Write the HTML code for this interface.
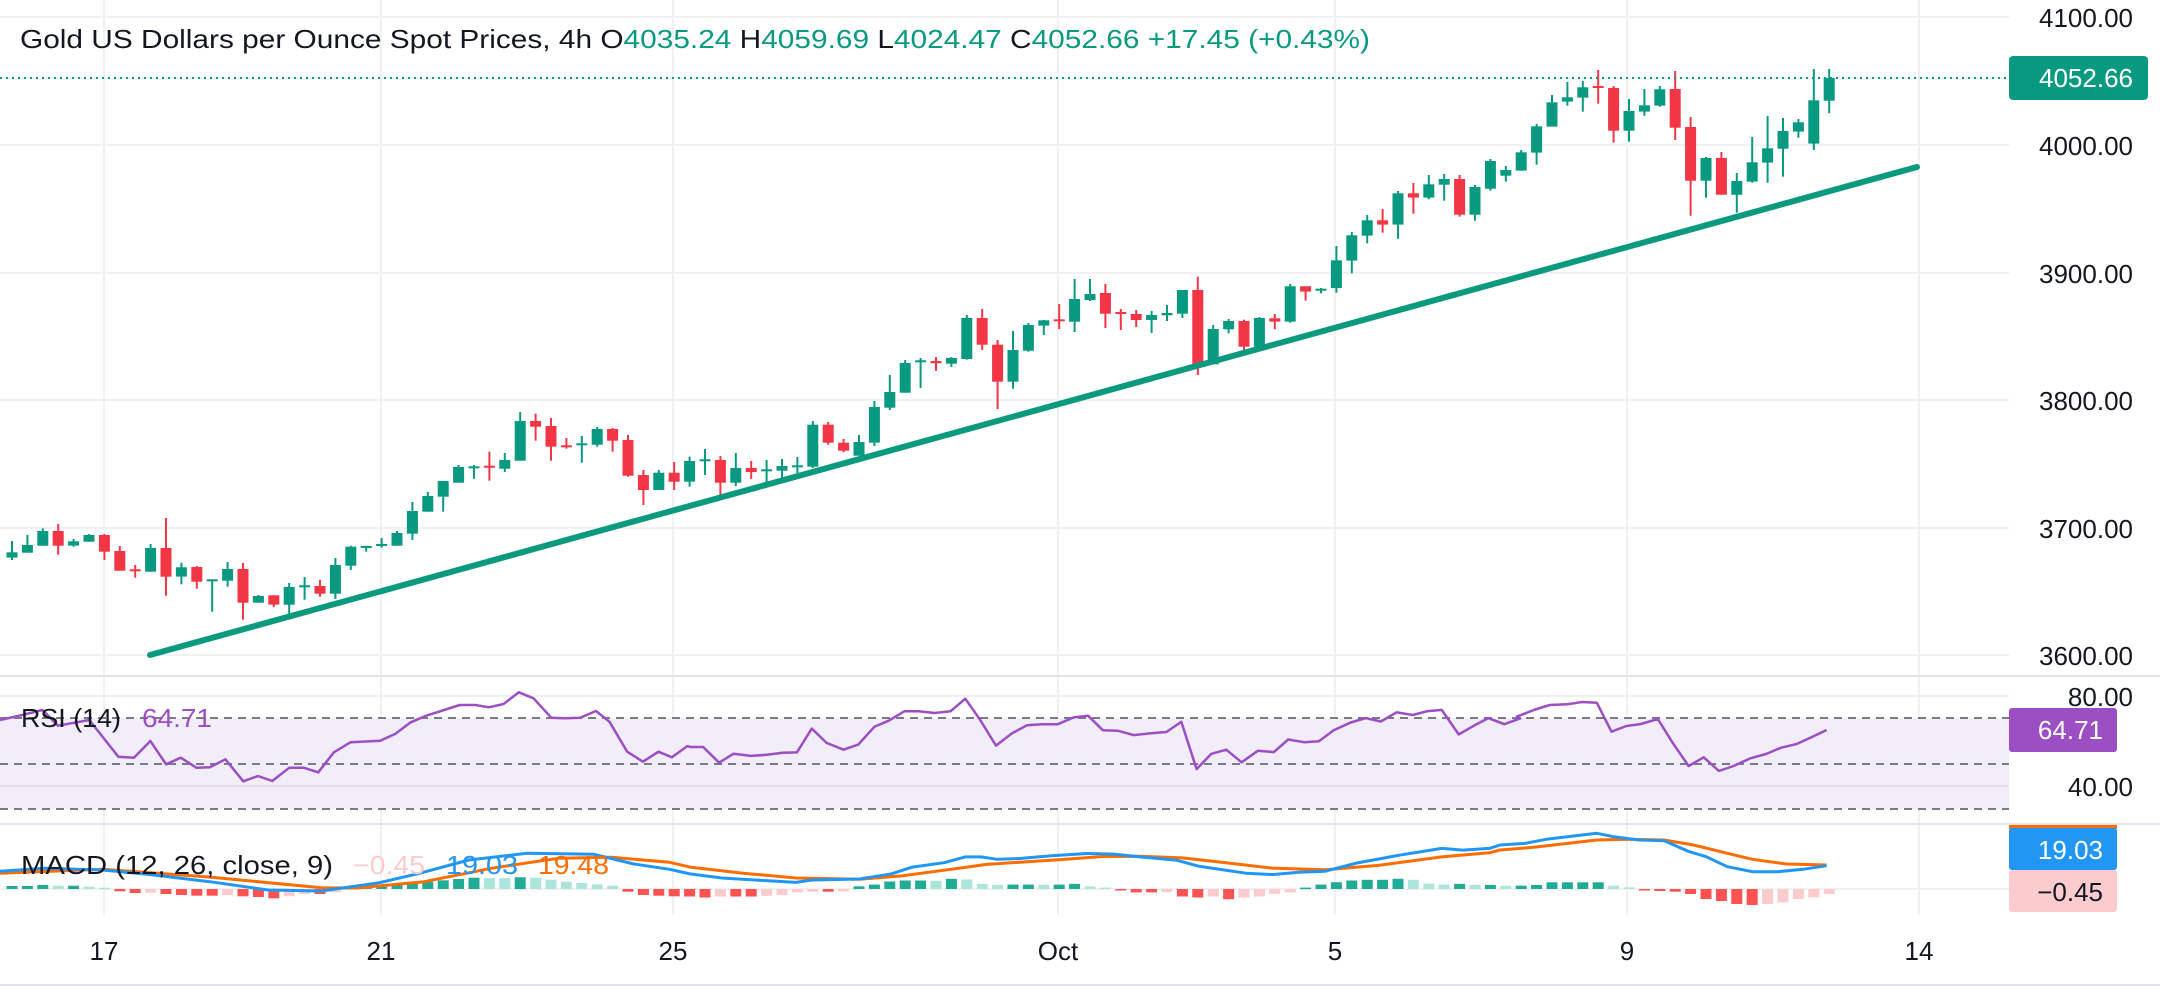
<!DOCTYPE html>
<html><head><meta charset="utf-8">
<style>
html,body{margin:0;padding:0;background:#fff;}
svg{display:block;font-family:"Liberation Sans",sans-serif;}
</style></head>
<body>
<svg id="s" width="2160" height="986" viewBox="0 0 2160 986" xmlns="http://www.w3.org/2000/svg"></svg>
<script>
var W=[];
function add(s){W.push(s);}
// grid
[17,145,273,400,528,655].forEach(function(y){add('<line x1="0" x2="2009" y1="'+y+'" y2="'+y+'" stroke="#f0f1f3" stroke-width="2"/>');});
[104,381,673,1058,1335,1627,1919].forEach(function(x){add('<line x1="'+x+'" x2="'+x+'" y1="0" y2="915" stroke="#f0f1f3" stroke-width="2"/>');});
// RSI band
add('<rect x="0" y="718" width="2009" height="91" fill="#f1edf9"/>');
add('<line x1="0" x2="2009" y1="696" y2="696" stroke="#f0f1f3" stroke-width="2"/>');
add('<line x1="0" x2="2009" y1="786" y2="786" stroke="#e4e1ec" stroke-width="2"/>');
[718,764,809].forEach(function(y){add('<line x1="0" x2="2009" y1="'+y+'" y2="'+y+'" stroke="#787b86" stroke-width="2" stroke-dasharray="8,6"/>');});
add('<line x1="0" x2="2009" y1="889" y2="889" stroke="#f0f1f3" stroke-width="2"/>');
// separators
[676,824].forEach(function(y){add('<line x1="0" x2="2160" y1="'+y+'" y2="'+y+'" stroke="#e0e3eb" stroke-width="2"/>');});
add('<line x1="0" x2="2160" y1="985" y2="985" stroke="#e0e3eb" stroke-width="2"/>');

// candles
var A=[[533,517,483,540],[518,495,465,518],[497,453,445,497],[453,497,432,524],[497,484,477,500],[485,465,462,485],[465,515,462,540],[513,572,498,572],[568,572,555,593],[575,504,492,575],[504,590,414,647],[590,562,548,613],[561,605,558,626],[600,598,598,695],[602,567,546,620],[567,668,549,719],[668,648,645,668],[646,674,646,681],[674,621,609,702],[618,616,591,659],[618,641,600,650],[641,555,534,657],[557,500,497,570],[500,498,497,515],[495,492,474,503],[497,459,453,497],[461,393,366,480],[395,348,336,395],[350,303,303,395],[308,261,255,308],[261,259,255,296],[257,259,215,302],[266,240,219,276],[242,123,96,242],[123,140,101,182],[138,200,114,242],[196,200,174,206],[192,190,168,248],[194,147,141,200],[147,182,144,215],[180,287,165,290]];
var B=[[645,690,630,735],[690,638,630,690],[638,665,606,690],[665,603,590,680],[600,598,567,645],[600,668,588,720],[668,624,579,678],[624,636,603,657],[630,628,600,668],[632,618,597,655],[618,616,591,640],[620,494,483,624],[494,548,486,554],[548,572,537,577],[587,546,525,587],[548,441,423,558],[443,396,345,450],[398,309,300,398],[303,301,294,384],[303,310,291,333],[311,294,291,321],[297,174,165,299],[174,254,147,270],[254,365,240,447],[365,270,213,386],[272,195,189,275],[197,181,180,225],[178,182,132,207],[185,117,57,216],[120,102,57,123],[99,161,72,204],[156,159,147,210],[162,180,150,201],[180,165,153,219],[166,159,135,183],[161,90,90,174],[90,315,50,345]];
var C=[[913,807,795,913],[808,783,777,820],[783,860,779,875],[860,774,771,860],[775,785,762,808],[785,679,672,788],[679,695,679,722],[688,686,684,700],[684,601,558,698],[602,526,516,640],[527,481,465,550],[481,494,447,518],[494,400,393,536],[400,413,369,461],[413,373,345,418],[374,357,342,422],[357,464,345,470],[464,381,375,482],[386,303,297,392],[347,330,318,365],[332,277,270,332],[278,199,192,314],[200,127,105,200],[125,112,66,137],[113,82,63,155],[78,81,30,131],[84,212,78,248],[212,153,117,245],[155,136,87,167],[137,88,78,140],[87,203,33,240],[201,362,171,467],[362,294,291,413],[294,404,276,404],[404,363,339,458],[365,307,231,368],[308,265,168,368],[266,213,174,350],[215,187,177,233],[251,121,27,270],[122,54,27,160]];
var D=[];
A.forEach(function(c){D.push(c.map(function(v){return 380+v/3;}));});
B.forEach(function(c){D.push(c.map(function(v){return 260+v/3;}));});
C.forEach(function(c){D.push(c.map(function(v){return 60+v/3;}));});
D.forEach(function(c,i){
  var x=12+15.4*i, o=c[0], cl=c[1], h=c[2], l=c[3];
  var up=cl<=o; var col=up?'#089981':'#f23645';
  var top=Math.min(o,cl), bh=Math.max(Math.abs(o-cl),2);
  add('<line x1="'+x.toFixed(1)+'" x2="'+x.toFixed(1)+'" y1="'+h.toFixed(1)+'" y2="'+l.toFixed(1)+'" stroke="'+col+'" stroke-width="2"/>');
  add('<rect x="'+(x-5.5).toFixed(1)+'" y="'+top.toFixed(1)+'" width="11" height="'+bh.toFixed(1)+'" fill="'+col+'"/>');
});
// trend line
add('<line x1="150" y1="655" x2="1917" y2="167" stroke="#0b9a7e" stroke-width="6" stroke-linecap="round"/>');
// price line
add('<line x1="0" x2="2009" y1="78" y2="78" stroke="#089981" stroke-width="2" stroke-dasharray="2,4"/>');

function pts(list,ox,sx,oy,sy){return list.map(function(p){return (ox+p[0]/sx).toFixed(1)+','+(oy+p[1]/sy).toFixed(1);}).join(' ');}
// RSI
var r1=[[0,180],[50,165],[95,150],[130,197],[200,180],[265,290],[300,293],[337,243],[372,313],[405,293],[440,323],[470,322],[505,298],[545,364],[578,348],[610,363],[648,323],[680,323],[713,337],[748,277],[785,247],[852,242],[885,222],[920,187],[955,167],[1030,135],[1065,135],[1095,142],[1128,132],[1162,97],[1195,115],[1235,173],[1265,175],[1300,173],[1335,153],[1365,185],[1405,275],[1440,305],[1475,275],[1505,292],[1540,258]];
var r2=[[0,197],[25,197],[55,243],[82,217],[115,223],[145,220],[175,214],[202,213],[230,143],[258,185],[290,205],[318,190],[348,138],[375,120],[405,92],[432,92],[462,97],[492,92],[520,55],[548,117],[578,193],[608,157],[637,133],[665,130],[695,130],[725,110],[752,105],[780,148],[808,149],[838,162],[868,157],[900,153],[928,123],[957,262],[985,217],[1013,205],[1042,242],[1073,208],[1103,212],[1130,175],[1160,183],[1188,180],[1216,148],[1248,125],[1277,112],[1305,122],[1335,95],[1365,103],[1392,92],[1420,88],[1452,160],[1480,135],[1508,112],[1538,130],[1568,113]];
var r3=[[40,170],[80,150],[118,135],[160,133],[195,126],[230,128],[265,215],[300,198],[335,192],[375,177],[410,248],[448,318],[484,292],[520,333],[555,318],[595,295],[632,282],[668,263],[705,252],[740,232],[776,210]];
add('<polyline fill="none" stroke="#9c4fc3" stroke-width="2.5" stroke-linejoin="round" points="'+pts(r1,0,2.24,660,3)+' '+pts(r2,690,1.889,680,2.94)+' '+pts(r3,1500,2.376,660,3)+'"/>');

// MACD histogram
var hz=[3,3,4,3.3,3.3,2.3,1.3,-2.3,-4,-3.6,-5,-6,-6.7,-6.7,-6,-7.3,-8,-9.3,-7.3,-5,-5,-3.3,1.7,2.7,3.3,4.7,6,7.3,8.7,10,11.3,11,10.8,11.7,11.3,9.3,7.3,6,4.7,3.3,-2.7,-6,-6.7,-7.3,-7.5];
var z7=[-25,-22,-22,-22,-20,-18,-10,-8,-8,-7,8,13,22,25,25,24,30,28,15,12,13,13,12,13,15,8,4,-4,-10,-10,-9,-22,-25,-22,-30,-25,-22,-14,-10,4,13,20,25,27,27,30,27,16,13,15,12,12];
z7.forEach(function(v){hz.push(v/2.94);});
[10,10,12,20,20,20,20,10,5,-4,-6,-8,-15,-30,-36,-45,-48,-45,-40,-30,-25,-15].forEach(function(v){hz.push(v/3);});
var zero=889;
for(var i=0;i<119&&i<hz.length;i++){
  var v=hz[i], pv=i>0?hz[i-1]:0, x=12+15.4*i, col;
  if(v>=0) col=(v>=pv)?'#22ab94':'#ace5dc'; else col=(v<=pv)?'#ff5252':'#fccbcd';
  var y=v>=0?zero-v:zero, h=Math.max(Math.abs(v),1.5);
  add('<rect x="'+(x-5.5).toFixed(1)+'" y="'+y.toFixed(1)+'" width="11" height="'+h.toFixed(1)+'" fill="'+col+'"/>');
}
// MACD lines
var b1=[[0,634],[100,625],[230,630],[330,643],[470,665],[600,690],[720,693],[850,668],[940,640],[1050,600],[1180,580],[1330,583],[1420,612],[1500,628]];
var b2=[[0,570],[60,582],[200,595],[230,588],[320,585],[380,570],[420,550],[480,537],[520,520],[550,520],[580,527],[620,525],[680,517],[750,510],[800,512],[850,520],[920,530],[960,547],[1050,568],[1100,572],[1150,565],[1200,562],[1260,538],[1340,515],[1420,495],[1460,500],[1510,495]];
var b3=[[0,555],[60,550],[110,538],[230,520],[270,530],[330,540],[390,542],[450,575],[490,590],[540,620],[600,635],[660,635],[720,628],[776,617]];
var o1=[[0,640],[230,628],[460,650],[720,683],[800,684],[950,665],[1100,625],[1250,595],[1370,592],[1500,607]];
var o2=[[0,550],[100,568],[200,582],[320,586],[400,576],[500,555],[560,542],[700,528],[780,519],[850,518],[930,523],[1000,535],[1100,553],[1200,558],[1300,545],[1420,520],[1510,508]];
var o3=[[0,570],[80,562],[230,540],[300,538],[390,540],[460,555],[540,580],[600,598],[680,612],[776,615]];
add('<polyline fill="none" stroke="#ff6d00" stroke-width="3" stroke-linejoin="round" points="'+pts(o1,0,2.24,660,3)+' '+pts(o2,690,1.889,680,2.94)+' '+pts(o3,1500,2.376,660,3)+'"/>');
add('<polyline fill="none" stroke="#2196f3" stroke-width="3" stroke-linejoin="round" points="'+pts(b1,0,2.24,660,3)+' '+pts(b2,690,1.889,680,2.94)+' '+pts(b3,1500,2.376,660,3)+'"/>');

// right axis labels
function t(x,y,s,col,anchor,size,extra){add('<text x="'+x+'" y="'+y+'" fill="'+col+'" font-size="'+(size||26)+'" text-anchor="'+(anchor||'start')+'" '+(extra||'')+'>'+s+'</text>');}
[[4100,27],[4000,155],[3900,283],[3800,410],[3700,538],[3600,665]].forEach(function(p){t(2133,p[1],p[0]+'.00','#131722','end');});
add('<rect x="2009" y="56" width="139" height="44" rx="4" fill="#089981"/>');
t(2133,87,'4052.66','#fff','end');
t(2133,706,'80.00','#131722','end');
t(2133,796,'40.00','#131722','end');
add('<rect x="2009" y="708" width="108" height="44" rx="3" fill="#9c4fc3"/>');
t(2103,739,'64.71','#fff','end');
add('<rect x="2009" y="825" width="108" height="4" fill="#ff6d00"/>');
add('<rect x="2009" y="828" width="108" height="42" rx="3" fill="#2196f3"/>');
t(2103,859,'19.03','#fff','end');
add('<rect x="2009" y="870" width="108" height="42" rx="3" fill="#fccbcd"/>');
t(2103,901,'\u22120.45','#131722','end');
// x axis
[[104,'17'],[381,'21'],[673,'25'],[1058,'Oct'],[1335,'5'],[1627,'9'],[1919,'14']].forEach(function(p){t(p[0],960,p[1],'#131722','middle');});
// title
add('<text x="20" y="48" font-size="26" fill="#131722" textLength="1350" lengthAdjust="spacingAndGlyphs">Gold US Dollars per Ounce Spot Prices, 4h  O<tspan fill="#089981">4035.24</tspan>  H<tspan fill="#089981">4059.69</tspan>  L<tspan fill="#089981">4024.47</tspan>  C<tspan fill="#089981">4052.66</tspan>  <tspan fill="#089981">+17.45 (+0.43%)</tspan></text>');
add('<text x="21" y="727" font-size="26" fill="#131722" textLength="100" lengthAdjust="spacingAndGlyphs">RSI (14)</text>');
add('<text x="142" y="727" font-size="26" fill="#9c4fc3" textLength="70" lengthAdjust="spacingAndGlyphs">64.71</text>');
add('<text x="21" y="874" font-size="26" fill="#131722" textLength="312" lengthAdjust="spacingAndGlyphs">MACD (12, 26, close, 9)</text>');
add('<text x="353" y="874" font-size="26" fill="#fccbcd" textLength="72" lengthAdjust="spacingAndGlyphs">\u22120.45</text>');
add('<text x="446" y="874" font-size="26" fill="#2196f3" textLength="72" lengthAdjust="spacingAndGlyphs">19.03</text>');
add('<text x="538" y="874" font-size="26" fill="#ff6d00" textLength="71" lengthAdjust="spacingAndGlyphs">19.48</text>');
document.getElementById('s').innerHTML=W.join('');
</script>
</body></html>
